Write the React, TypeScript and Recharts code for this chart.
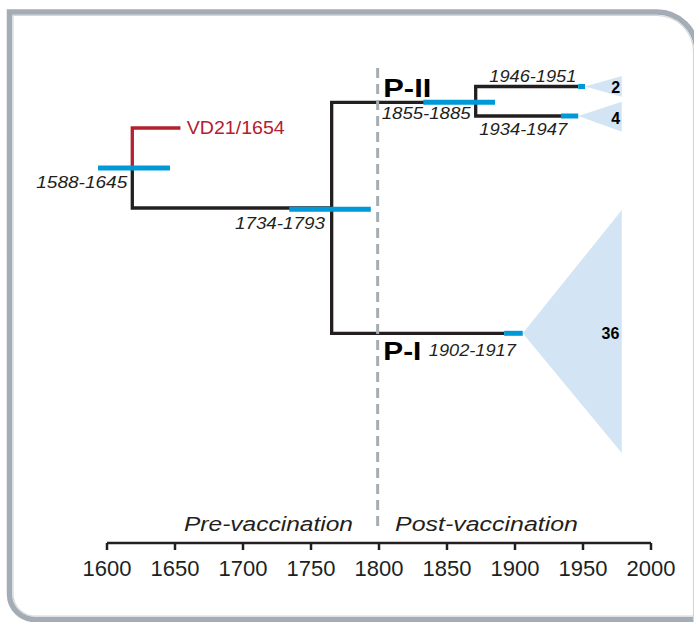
import React from 'react';
import { ComposedChart, XAxis, YAxis, Line, Area, ReferenceDot, ReferenceLine } from 'recharts';

const FONT = '"Liberation Sans", Arial, Helvetica, sans-serif';
const INK = '#231f20';
const RED = '#b3202e';
const BLUE = '#0099d8';
const FAN = '#d3e5f5';
const GUIDE = '#a4adb4';

// Time axis
const tickYears = [1600, 1650, 1700, 1750, 1800, 1850, 1900, 1950, 2000];
const vaccinationYear = 1799;

// Tree branches: (year, lane) polylines
const branchVD21 = [
  { x: 1654, y: 8.5 },
  { x: 1618.6, y: 8.5 },
  { x: 1618.6, y: 12.5 },
];
const branchRoot = [
  { x: 1618.6, y: 12.5 },
  { x: 1618.6, y: 16.5 },
  { x: 1765.2, y: 16.5 },
];
const branchSplit = [
  { x: 1871.1, y: 5.93 },
  { x: 1765.2, y: 5.93 },
  { x: 1765.2, y: 29.03 },
  { x: 1892, y: 29.03 },
];
const branchPII = [
  { x: 1946.5, y: 4.35 },
  { x: 1871.1, y: 4.35 },
  { x: 1871.1, y: 7.3 },
  { x: 1933.8, y: 7.3 },
];

// Date intervals (blue bars): from, to, lane
const hpdFrom = [1593.4, 1734, 1832.6, 1946.5, 1933.8, 1892];
const hpdTo = [1646.3, 1794, 1885.3, 1951.5, 1946.5, 1905.7];
const hpdLane = [12.5, 16.63, 5.93, 4.35, 7.3, 29.03];

// Collapsed clades: apex year, lane, end year, lane range, size
const cladeApex = [1951.5, 1946.5, 1905.7];
const cladeLane = [4.35, 7.3, 29.03];
const cladeEnd = [1978.5, 1978.5, 1978.5];
const cladeLow = [3.3, 5.87, 16.7];
const cladeHigh = [5.37, 8.87, 41.0];
const cladeSize = ['2', '4', '36'];

const guideLine = [
  { x: vaccinationYear, y: 2.5 },
  { x: vaccinationYear, y: 48.7 },
];

type LabelSpec = {
  text: string; x: number; y: number; dx: number; dy: number;
  anchor: 'start' | 'middle' | 'end'; size: number; weight?: number;
  italic?: boolean; color: string; w?: number;
};

const labels: LabelSpec[] = [
  { text: 'VD21/1654', x: 1654, y: 8.5, dx: 6.3, dy: 6.3, anchor: 'start', size: 17.5, color: RED, w: 98 },
  { text: '1588-1645', x: 1618.6, y: 12.5, dx: -5, dy: 19.8, anchor: 'end', size: 17, italic: true, color: INK, w: 91 },
  { text: '1734-1793', x: 1765.2, y: 16.5, dx: -6.7, dy: 20.8, anchor: 'end', size: 17, italic: true, color: INK, w: 90 },
  { text: '1855-1885', x: 1800, y: 5.93, dx: 2.7, dy: 16.5, anchor: 'start', size: 17, italic: true, color: INK, w: 89 },
  { text: '1946-1951', x: 1871.1, y: 4.35, dx: 13.6, dy: -4.4, anchor: 'start', size: 17, italic: true, color: INK, w: 87 },
  { text: '1934-1947', x: 1871.1, y: 7.3, dx: 3.6, dy: 19.4, anchor: 'start', size: 17, italic: true, color: INK, w: 88 },
  { text: '1902-1917', x: 1892, y: 29.03, dx: 11.7, dy: 22.8, anchor: 'end', size: 17, italic: true, color: INK, w: 87 },
  { text: 'P-II', x: 1800, y: 5.93, dx: 4.3, dy: -5, anchor: 'start', size: 25, weight: 700, color: '#000', w: 48 },
  { text: 'P-I', x: 1800, y: 29.03, dx: 4.3, dy: 26.5, anchor: 'start', size: 25, weight: 700, color: '#000', w: 38 },
  { text: 'Pre-vaccination', x: 1800, y: 50, dx: -26, dy: -12, anchor: 'end', size: 20, italic: true, color: INK, w: 169 },
  { text: 'Post-vaccination', x: 1800, y: 50, dx: 16, dy: -12, anchor: 'start', size: 20, italic: true, color: INK, w: 183 },
];

const cladeLabelDx = [-1.7, -1.7, -2.4];
const cladeLabelDy = [6, 7.7, 5.9];

const textShape = (s: LabelSpec) => (p: any) => (
  <text
    x={p.cx + s.dx}
    y={p.cy + s.dy}
    textAnchor={s.anchor}
    fontFamily={FONT}
    fontSize={s.size}
    fontWeight={s.weight || 400}
    fontStyle={s.italic ? 'italic' : 'normal'}
    fill={s.color}
    textLength={s.w}
    lengthAdjust={s.w ? 'spacingAndGlyphs' : undefined}
  >
    {s.text}
  </text>
);

const YearTick = (props: any) => {
  const { x, y, payload } = props;
  return (
    <text x={x} y={y + 25.5} textAnchor="middle" fontFamily={FONT} fontSize={22} fill={INK}>
      {payload.value}
    </text>
  );
};

export default function App() {
  const clades = cladeApex.map((a, i) => [
    { x: a, r: [cladeLane[i], cladeLane[i]] },
    { x: cladeEnd[i], r: [cladeLow[i], cladeHigh[i]] },
  ]);
  return (
    <div style={{ position: 'absolute', left: 0, top: 0, width: 694, height: 622, background: '#fff', overflow: 'hidden' }}>
      <ComposedChart
        width={694}
        height={622}
        margin={{ top: 43, right: 43, bottom: 0, left: 107 }}
      >
        <XAxis
          type="number"
          dataKey="x"
          domain={[1600, 2000]}
          ticks={tickYears}
          interval={0}
          allowDataOverflow
          height={79}
          axisLine={{ stroke: INK, strokeWidth: 2.7 }}
          tickLine={{ stroke: INK, strokeWidth: 2.5 }}
          tickSize={7}
          tickMargin={0}
          tick={<YearTick />}
        />
        <YAxis type="number" domain={[0, 50]} reversed hide allowDataOverflow />
        {clades.map((d, i) => (
          <Area
            key={'c' + i}
            data={d}
            dataKey="r"
            type="linear"
            stroke="none"
            fill={FAN}
            fillOpacity={1}
            isAnimationActive={false}
          />
        ))}
        {[branchVD21, branchRoot, branchSplit, branchPII].map((d, i) => (
          <Line
            key={'b' + i}
            data={d}
            dataKey="y"
            type="linear"
            stroke={i === 0 ? RED : INK}
            strokeWidth={3.3}
            strokeLinejoin="miter"
            strokeLinecap="butt"
            dot={false}
            activeDot={false}
            isAnimationActive={false}
          />
        ))}
        {hpdFrom.map((f, i) => (
          <ReferenceLine
            key={'h' + i}
            segment={[
              { x: f, y: hpdLane[i] },
              { x: hpdTo[i], y: hpdLane[i] },
            ]}
            ifOverflow="visible"
            stroke={BLUE}
            strokeWidth={5}
            strokeLinecap="butt"
          />
        ))}
        <Line
          data={guideLine}
          dataKey="y"
          type="linear"
          stroke={GUIDE}
          strokeWidth={3}
          strokeDasharray="10 6"
          dot={false}
          activeDot={false}
          isAnimationActive={false}
        />
        {labels.map((s, i) => (
          <ReferenceDot key={'l' + i} x={s.x} y={s.y} r={0} shape={textShape(s)} />
        ))}
        {cladeSize.map((n, i) => (
          <ReferenceDot
            key={'n' + i}
            x={cladeEnd[i]}
            y={cladeLane[i]}
            r={0}
            shape={textShape({
              text: n, x: cladeEnd[i], y: cladeLane[i], dx: cladeLabelDx[i], dy: cladeLabelDy[i],
              anchor: 'end', size: 16, weight: 700, color: '#000',
            })}
          />
        ))}
      </ComposedChart>
      <svg width={694} height={622} style={{ position: 'absolute', left: 0, top: 0, pointerEvents: 'none' }}>
        <path
          d="M 720 619.5 H 35 A 25.5 25.5 0 0 1 9.5 594 V 12 H 657 A 40 40 0 0 1 697 52 V 720"
          fill="none"
          stroke="#a4adb5"
          strokeWidth={5.5}
        />
        <path
          d="M 720 616 H 35 A 22 22 0 0 1 13 594 V 15.5 H 657 A 36.5 36.5 0 0 1 693.5 52 V 720"
          fill="none"
          stroke="#d2d7dc"
          strokeWidth={1.2}
        />
      </svg>
    </div>
  );
}
